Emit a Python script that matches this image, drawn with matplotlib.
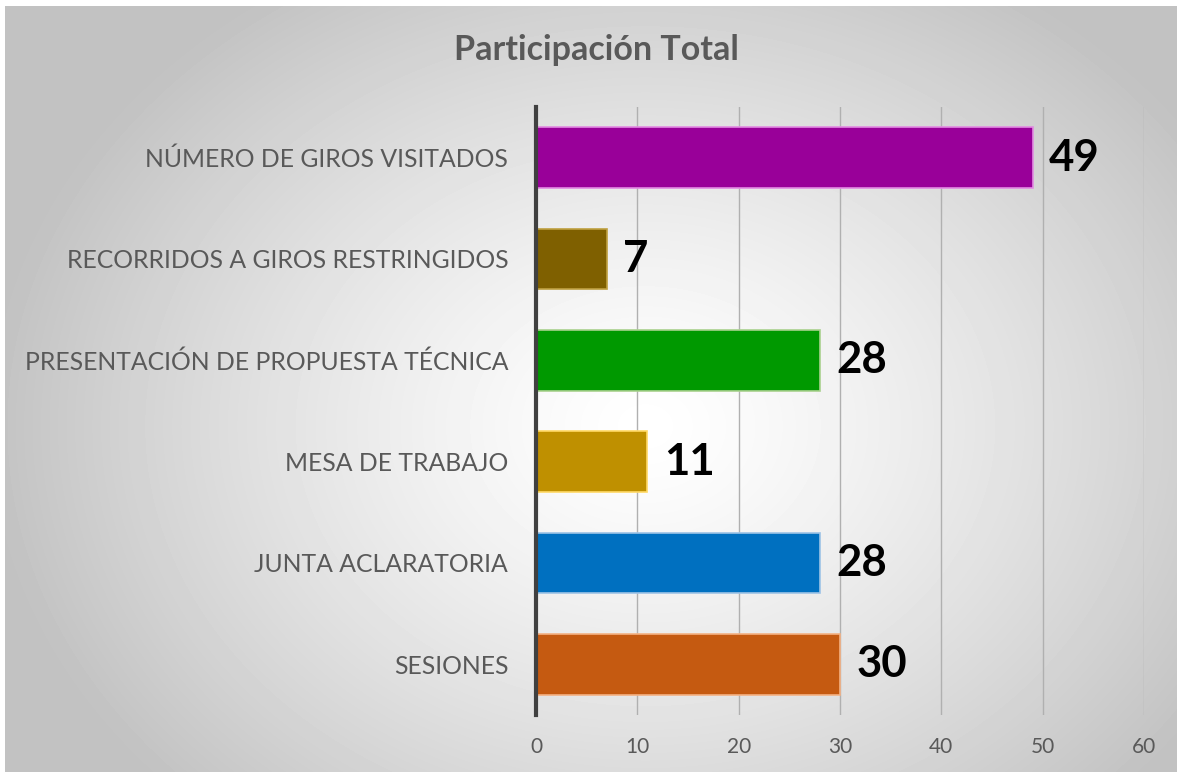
import numpy as np
import matplotlib.pyplot as plt

# data, bottom to top as drawn
categories = ["SESIONES", "JUNTA ACLARATORIA", "MESA DE TRABAJO",
              "PRESENTACIÓN DE PROPUESTA TÉCNICA", "RECORRIDOS A GIROS RESTRINGIDOS",
              "NÚMERO DE GIROS VISITADOS"]
values = [30, 28, 11, 28, 7, 49]
bar_colors = ["#c55a11", "#0070c0", "#bf9000", "#009900", "#7f6000", "#990099"]
edge_colors = ["#f4b183", "#9dc3e6", "#ffd966", "#a9d18e", "#bfa040", "#e28be2"]
xticks = [0, 10, 20, 30, 40, 50, 60]

plt.rcParams['font.family'] = ['Lato', 'DejaVu Sans']

fig = plt.figure(figsize=(11.77, 7.72), dpi=100)
fig.patch.set_facecolor("white")

# radial gradient background
bg = fig.add_axes([5 / 1177, 0, 1172 / 1177, 766 / 772], zorder=-10)
yy, xx = np.mgrid[0:766, 0:1172]
r = np.sqrt(((xx - 640) / 700.0) ** 2 + ((yy - 420) / 560.0) ** 2)
shade = np.clip(1.0 - 0.26 * r ** 1.3, 0.76, 1.0)
bg.imshow(shade, cmap="gray", vmin=0, vmax=1, aspect="auto", interpolation="bilinear")
bg.set_axis_off()

ax = fig.add_axes([536 / 1177, 57 / 772, 608 / 1177, 608 / 772])
ax.patch.set_alpha(0)

y = np.arange(len(categories))
ax.barh(y, values, height=0.6, color=bar_colors, edgecolor=edge_colors, linewidth=1.2, zorder=3)

for yi, v in zip(y, values):
    ax.text(v + 1.6, yi, str(v), va="center", ha="left", fontsize=31.5,
            fontweight="bold", color="black", zorder=4)

ax.set_xlim(0, 60)
ax.set_ylim(-0.5, 5.5)
ax.set_xticks(xticks)
ax.set_yticks(y)
ax.set_yticklabels(categories)
ax.grid(axis="x", color="#b0b0b0", linewidth=1.0, zorder=0)
ax.tick_params(axis="x", length=0, pad=16, labelsize=15, labelcolor="#595959")
ax.tick_params(axis="y", length=0, pad=20, labelsize=17.8, labelcolor="#595959")
for s in ["top", "right", "bottom"]:
    ax.spines[s].set_visible(False)
ax.spines["left"].set_color("#404040")
ax.spines["left"].set_linewidth(3)
ax.spines["left"].set_zorder(5)

fig.text(596 / 1177, 1 - 50 / 772, "Participación Total", ha="center", va="center",
         fontsize=24.5, fontweight="bold", color="#595959")

fig.savefig("out.png", dpi=100)
